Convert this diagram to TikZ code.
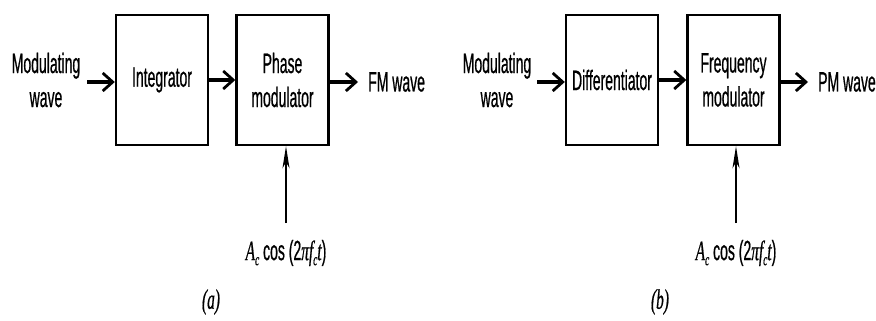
\documentclass[tikz,border=0pt]{standalone}
\usepackage{fontspec}
\setmainfont[FakeStretch=0.5,FakeBold=0.6]{Liberation Sans}
\newfontfamily\serfont[FakeStretch=0.55,FakeBold=0.6]{Liberation Serif}
\usetikzlibrary{arrows.meta}
\newcommand{\mi}[1]{{\serfont\itshape #1}}
\newcommand{\sub}[1]{\lower5pt\hbox{\fontsize{17}{17}\selectfont\mi{#1}}}
\begin{document}
\begin{tikzpicture}[x=1pt,y=-1pt,
  block/.style={draw, line width=2.4pt, minimum width=92pt, minimum height=130pt, align=center, inner sep=0pt},
  txt/.style={align=center, inner sep=0pt, font=\fontsize{28}{34}\selectfont},
  harr/.style={line width=3.4pt, -{Straight Barb[length=10pt,width=18pt,line width=2.8pt]}},
  varr/.style={line width=1.8pt, -{Stealth[length=22pt,width=7pt,inset=6pt]}}]
\useasboundingbox (0,0) rectangle (876,321);
\fontsize{28}{34}\selectfont
% (a)
\node[txt] (mwa) at (46,80) {Modulating\\wave};
\node[block,txt] (int) at (162,80) {Integrator};
\node[block,txt] (pm) at (282.5,80) {Phase\\modulator};
\node[txt, anchor=west, inner xsep=10pt] (fm) at (358,82) {FM wave};
\coordinate (ia) at (87,82);
\draw[harr] (ia) -- (ia -| int.west);
\draw[harr] (int.east) -- (pm.west);
\draw[harr] (pm.east |- fm.west) -- (fm.west);
\node[txt] (ca) at (286,253) {\mi{A}\sub{c} cos (2\mi{πf}\sub{c}\mi{t})};
\coordinate (va) at (286,223);
\draw[varr] (va) -- (va |- pm.south);
\node[txt] (la) at (211,302) {\mi{(a)}};
% (b)
\node[txt] (mwb) at (497,80) {Modulating\\wave};
\node[block,txt] (dif) at (612,80) {Differentiator};
\node[block,txt] (fmod) at (733.5,80) {Frequency\\modulator};
\node[txt, anchor=west, inner xsep=10pt] (pmw) at (808,82) {PM wave};
\coordinate (ib) at (537,82);
\draw[harr] (ib) -- (ib -| dif.west);
\draw[harr] (dif.east) -- (fmod.west);
\draw[harr] (fmod.east |- pmw.west) -- (pmw.west);
\node[txt] (cb) at (736,253) {\mi{A}\sub{c} cos (2\mi{πf}\sub{c}\mi{t})};
\coordinate (vb) at (736,223);
\draw[varr] (vb) -- (vb |- fmod.south);
\node[txt] (lb) at (660,302) {\mi{(b)}};
\end{tikzpicture}
\end{document}
